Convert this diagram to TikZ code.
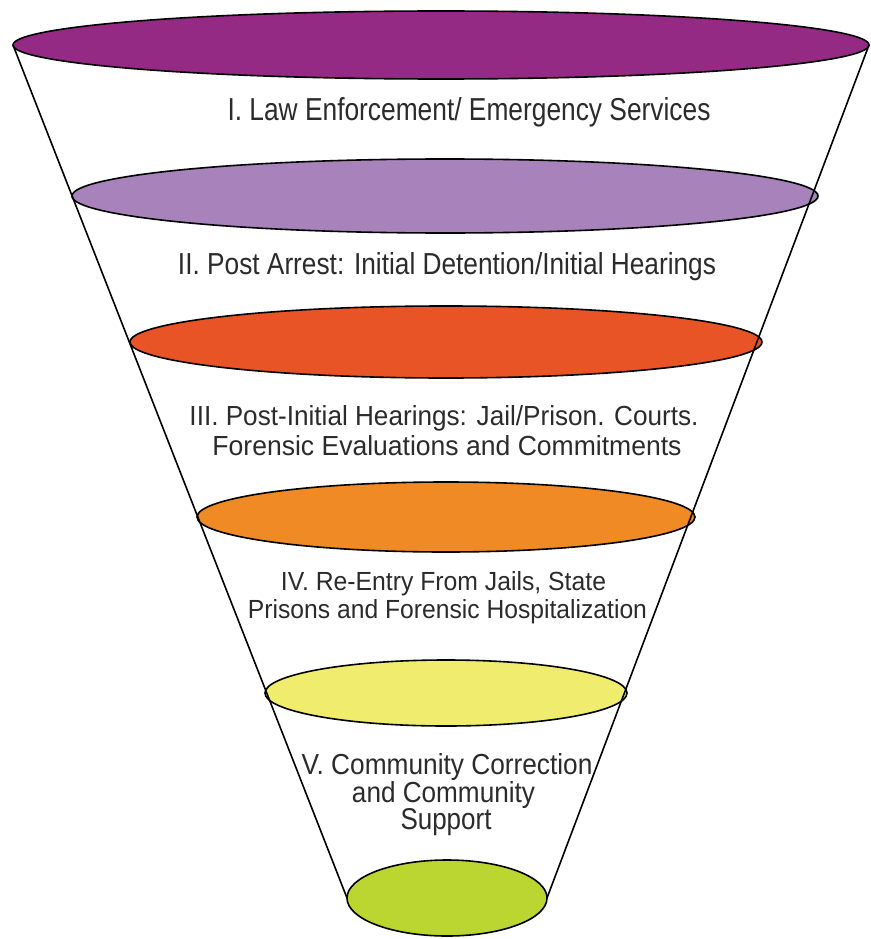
\documentclass[tikz,border=0pt]{standalone}
\usepackage{fontspec}
\setmainfont{Liberation Sans}
\usepackage{graphicx}
\usetikzlibrary{shapes.geometric}
\definecolor{cA}{HTML}{952A84}
\definecolor{cB}{HTML}{A882BB}
\definecolor{cC}{HTML}{E85425}
\definecolor{cD}{HTML}{F08A24}
\definecolor{cE}{HTML}{F0EC6E}
\definecolor{cF}{HTML}{BCD631}
\definecolor{txtgray}{HTML}{2B2B2B}
\newcommand\fitline[3]{\resizebox{#1pt}{#2pt}{#3}}
\begin{document}
\begin{tikzpicture}[x=1pt,y=-1pt,
  stage/.style={ellipse, draw=black, line width=1.6pt, inner sep=0pt, outer sep=0pt},
  lbl/.style={anchor=base, inner sep=0pt, outer sep=0pt, text=txtgray},
  side/.style={draw=black, line width=1.6pt}]
\useasboundingbox[fill=white] (0,0) rectangle (870,939);
% stages
\node[stage, fill=cA, minimum width=856pt, minimum height=68pt] (e1) at (441,45) {};
\node[stage, fill=cB, minimum width=746pt, minimum height=74pt] (e2) at (445,196) {};
\node[stage, fill=cC, minimum width=632pt, minimum height=72pt] (e3) at (446,342) {};
\node[stage, fill=cD, minimum width=498pt, minimum height=70pt] (e4) at (446,517) {};
\node[stage, fill=cE, minimum width=362pt, minimum height=66pt] (e5) at (446,693) {};
\node[stage, fill=cF, minimum width=200pt, minimum height=76pt] (e6) at (447,898) {};
% funnel sides
\draw[side] (e1.west) -- (e6.west);
\draw[side] (e1.east) -- (e6.east);
% labels
\node[lbl] (t1) at (469,121) {\fitline{483}{23}{I. Law Enforcement/ Emergency Services}};
\node[lbl] (t2) at (447,274) {\fitline{538}{22}{II. Post Arrest: Initial Detention/Initial Hearings}};
\node[lbl] (t3a) at (444,425) {\fitline{509}{20}{III. Post-Initial Hearings: Jail/Prison. Courts.}};
\node[lbl] (t3b) at (447,455) {\fitline{469}{20}{Forensic Evaluations and Commitments}};
\node[lbl] (t4a) at (443.5,590) {\fitline{325}{19}{IV. Re-Entry From Jails, State}};
\node[lbl] (t4b) at (447.5,618) {\fitline{399}{19}{Prisons and Forensic Hospitalization}};
\node[lbl] (t5a) at (447,774) {\fitline{291}{21}{V. Community Correction}};
\node[lbl] (t5b) at (443.5,802) {\fitline{183}{21}{and Community}};
\node[lbl] (t5c) at (446,829) {\fitline{91}{21}{Support}};
\end{tikzpicture}
\end{document}
